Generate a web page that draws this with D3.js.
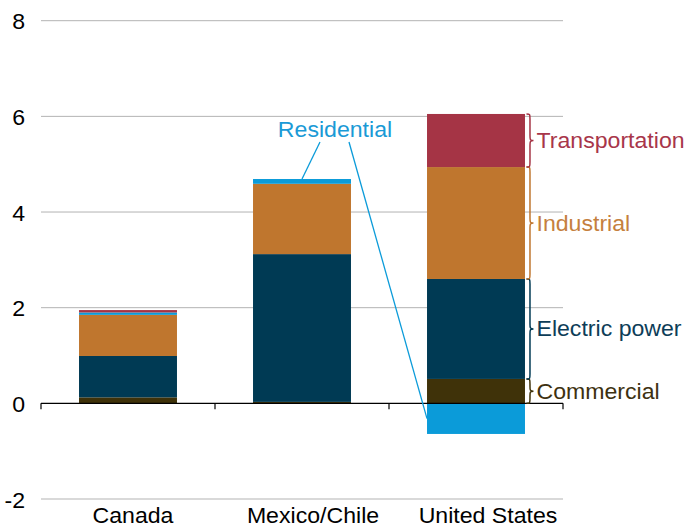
<!DOCTYPE html>
<html>
<head>
<meta charset="utf-8">
<script src="https://cdn.jsdelivr.net/npm/d3@7"></script>
<style>
  html, body { margin: 0; padding: 0; background: #fff; }
  text { font-family: "Liberation Sans", Arial, sans-serif; }
</style>
</head>
<body>
<svg id="chart" width="686" height="527"></svg>
<script>
// ---- data ----
const categories = ["Canada", "Mexico/Chile", "United States"];
const seriesNames = ["Residential", "Commercial", "Electric power", "Industrial", "Transportation"];
const residential    = [0.05, 0.10, -0.64];
const commercial     = [0.125, 0.03, 0.51];
const electricPower  = [0.865, 3.09, 2.09];
const industrial     = [0.86, 1.47, 2.34];
const transportation = [0.05, 0.00, 1.11];
const yTicks = [-2, 0, 2, 4, 6, 8];
const seriesColors = {
  "Residential": "#0b9bd9",
  "Commercial": "#3f3209",
  "Electric power": "#003a54",
  "Industrial": "#bf762e",
  "Transportation": "#a53445"
};
const labelColors = {
  "Residential": "#1a9ad6",
  "Commercial": "#3d3110",
  "Electric power": "#0d3d58",
  "Industrial": "#c5803e",
  "Transportation": "#a8364a"
};

const valuesBySeries = {
  "Residential": residential,
  "Commercial": commercial,
  "Electric power": electricPower,
  "Industrial": industrial,
  "Transportation": transportation
};

// stacking order for positive values (bottom to top)
const stackOrder = ["Commercial", "Electric power", "Industrial", "Residential", "Transportation"];

const svg = d3.select("#chart");
const x = d3.scaleBand().domain(categories).range([41, 563]).paddingInner(0.437).paddingOuter(0.2185);
const y = d3.scaleLinear().domain([-2, 8]).range([499, 20.7]);

const FS = 21.5;
const SX = 1.075; // horizontal stretch of the original's text
const catLabelShift = [5, 11, 12]; // label offsets as in the original layout

function place(sel, fx, fy) {
  return sel.attr("transform", (d, i) => `translate(${fx(d, i)},${fy(d, i)}) scale(${SX},1)`);
}

// gridlines
svg.append("g").selectAll("line").data(yTicks.filter(d => d !== 0)).join("line")
  .attr("x1", 41).attr("x2", 563)
  .attr("y1", d => y(d)).attr("y2", d => y(d))
  .attr("stroke", "#b3b3b3").attr("stroke-width", 1);

// y tick labels
place(svg.append("g").selectAll("text").data(yTicks).join("text"), () => 25, d => y(d) + 1.5)
  .attr("text-anchor", "end").attr("dominant-baseline", "central")
  .attr("font-size", FS).attr("fill", "#000")
  .text(d => d);

// compute segments
const segs = [];
categories.forEach((c, i) => {
  let pos = 0, neg = 0;
  stackOrder.forEach(s => {
    const v = valuesBySeries[s][i];
    if (v >= 0) { segs.push({cat: c, s, y0: pos, y1: pos + v}); pos += v; }
    else { segs.push({cat: c, s, y0: neg + v, y1: neg}); neg += v; }
  });
});

svg.append("g").selectAll("rect").data(segs.filter(d => d.y1 - d.y0 > 0)).join("rect")
  .attr("x", d => x(d.cat)).attr("width", x.bandwidth())
  .attr("y", d => y(d.y1)).attr("height", d => y(d.y0) - y(d.y1))
  .attr("fill", d => seriesColors[d.s]);

// zero axis with ticks at band boundaries
const axisG = svg.append("g");
axisG.append("line").attr("x1", 41).attr("x2", 563).attr("y1", y(0)).attr("y2", y(0))
  .attr("stroke", "#000").attr("stroke-width", 1.2);
const bounds = [x.range()[0]].concat(categories.map(c => x(c) + x.bandwidth() + x.step() * x.paddingInner() / 2));
bounds[bounds.length - 1] = x.range()[1];
axisG.selectAll(".tk").data(bounds).join("line")
  .attr("x1", d => d).attr("x2", d => d).attr("y1", y(0)).attr("y2", y(0) + 6)
  .attr("stroke", "#000").attr("stroke-width", 1.2);

// category labels
place(svg.append("g").selectAll("text").data(categories).join("text"),
      (d, i) => x(d) + x.bandwidth() / 2 + catLabelShift[i], () => 523)
  .attr("text-anchor", "middle").attr("font-size", FS).attr("fill", "#000")
  .text(d => d);

// braces + labels for United States
const usSegs = segs.filter(d => d.cat === "United States" && d.y0 >= 0 && d.y1 - d.y0 > 0);
function brace(x0, ya, yb) {
  const xb = x0 + 3.5, xc = x0 + 7, mid = (ya + yb) / 2;
  const r = Math.min(5, (yb - ya) / 4);
  return `M${x0},${ya} C${xb},${ya} ${xb},${ya} ${xb},${ya + r} L${xb},${mid - r} C${xb},${mid - 1} ${xb},${mid} ${xc},${mid}` +
         ` C${xb},${mid} ${xb},${mid + 1} ${xb},${mid + r} L${xb},${yb - r} C${xb},${yb} ${xb},${yb} ${x0},${yb}`;
}
const bx = x("United States") + x.bandwidth() + 1.5;
svg.append("g").selectAll("path").data(usSegs).join("path")
  .attr("d", d => brace(bx, y(d.y1), y(d.y0)))
  .attr("fill", "none").attr("stroke", d => seriesColors[d.s]).attr("stroke-width", 1.5);
place(svg.append("g").selectAll("text").data(usSegs).join("text"),
      () => bx + 10, d => (y(d.y0) + y(d.y1)) / 2 + 7.5)
  .attr("font-size", FS).attr("fill", d => labelColors[d.s])
  .text(d => d.s);

// Residential callout
place(svg.append("text").datum("Residential"), () => 335, () => 137)
  .attr("text-anchor", "middle").attr("font-size", FS).attr("fill", labelColors["Residential"])
  .text(d => d);
const mxTop = segs.find(d => d.cat === "Mexico/Chile" && d.s === "Residential").y1;
const usRes = segs.find(d => d.cat === "United States" && d.s === "Residential");
svg.append("line")
  .attr("x1", 320).attr("y1", 142)
  .attr("x2", x("Mexico/Chile") + x.bandwidth() / 2).attr("y2", y(mxTop))
  .attr("stroke", seriesColors["Residential"]).attr("stroke-width", 1.3);
svg.append("line")
  .attr("x1", 349).attr("y1", 142)
  .attr("x2", x("United States")).attr("y2", y((usRes.y0 + usRes.y1) / 2))
  .attr("stroke", seriesColors["Residential"]).attr("stroke-width", 1.3);
</script>
</body>
</html>
